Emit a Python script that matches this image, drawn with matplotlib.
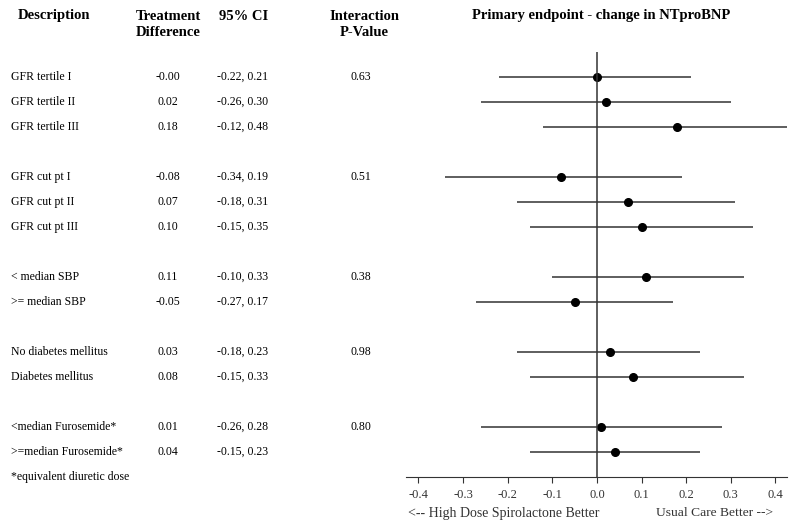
import matplotlib
matplotlib.use('Agg')
import matplotlib.pyplot as plt
import matplotlib.transforms as mtransforms

plt.rcParams['font.family'] = ['Liberation Serif', 'DejaVu Serif']

# data
labels = ['GFR tertile I', 'GFR tertile II', 'GFR tertile III',
          'GFR cut pt I', 'GFR cut pt II', 'GFR cut pt III',
          '< median SBP', '>= median SBP',
          'No diabetes mellitus', 'Diabetes mellitus',
          '<median Furosemide*', '>=median Furosemide*']
est = [-0.00, 0.02, 0.18, -0.08, 0.07, 0.10, 0.11, -0.05, 0.03, 0.08, 0.01, 0.04]
est_txt = ['-0.00', '0.02', '0.18', '-0.08', '0.07', '0.10', '0.11', '-0.05', '0.03', '0.08', '0.01', '0.04']
lo = [-0.22, -0.26, -0.12, -0.34, -0.18, -0.15, -0.10, -0.27, -0.18, -0.15, -0.26, -0.15]
hi = [0.21, 0.30, 0.48, 0.19, 0.31, 0.35, 0.33, 0.17, 0.23, 0.33, 0.28, 0.23]
pvals = ['0.63', '', '', '0.51', '', '', '0.38', '', '0.98', '', '0.80', '']
rows = [0, 1, 2, 4, 5, 6, 8, 9, 11, 12, 14, 15]

fig = plt.figure(figsize=(8, 5.27), dpi=100)
ax = fig.add_axes([0.5075, 0.0949, 0.47625, 0.8065])

ax.hlines(rows, lo, hi, color='#333333', lw=1.1)
ax.plot(est, rows, 'o', color='black', ms=5.5)
ax.axvline(0, color='#333333', lw=1.1)

ax.set_xlim(-0.428, 0.426)
ax.set_ylim(16, -1)
ax.set_yticks([])
for s in ['top', 'right', 'left']:
    ax.spines[s].set_visible(False)
ax.spines['bottom'].set_color('#333333')
ax.set_xticks([-0.4, -0.3, -0.2, -0.1, 0.0, 0.1, 0.2, 0.3, 0.4])
ax.set_xticklabels(['-0.4', '-0.3', '-0.2', '-0.1', '0.0', '0.1', '0.2', '0.3', '0.4'])
ax.tick_params(axis='x', labelsize=9, labelcolor='#333333', length=4, color='#333333', pad=5)

# table text
tr = mtransforms.blended_transform_factory(fig.transFigure, ax.transData)
for r, lab, e, a, b, p in zip(rows, labels, est_txt, lo, hi, pvals):
    ax.text(11/800, r, lab, transform=tr, fontsize=8.5, va='center', ha='left')
    ax.text(168/800, r, e, transform=tr, fontsize=8.5, va='center', ha='center')
    ax.text(217/800, r, '%.2f, %.2f' % (a, b), transform=tr, fontsize=8.5, va='center', ha='left')
    ax.text(361/800, r, p, transform=tr, fontsize=8.5, va='center', ha='center')
ax.text(11/800, 16, '*equivalent diuretic dose', transform=tr, fontsize=8.5, va='center', ha='left')

# headers
fig.text(54/800, 1 - 16/527, 'Description', fontsize=10.5, weight='bold', ha='center', va='center')
fig.text(168/800, 1 - 24/527, 'Treatment\nDifference', fontsize=10.5, weight='bold', ha='center', va='center',
         linespacing=1.3)
fig.text(244/800, 1 - 16/527, '95% CI', fontsize=10.5, weight='bold', ha='center', va='center')
fig.text(364/800, 1 - 24/527, 'Interaction\nP-Value', fontsize=10.5, weight='bold', ha='center', va='center',
         linespacing=1.3)
fig.text(601/800, 1 - 16/527, 'Primary endpoint - change in NTproBNP', fontsize=10.5, weight='bold',
         ha='center', va='center')

fig.text(408/800, 1 - 513/527, '<-- High Dose Spirolactone Better', fontsize=10, ha='left', va='center',
         color='#333333')
fig.text(773/800, 1 - 513/527, 'Usual Care Better -->', fontsize=9.7, ha='right', va='center',
         color='#333333')

plt.savefig('out.png', dpi=100)
